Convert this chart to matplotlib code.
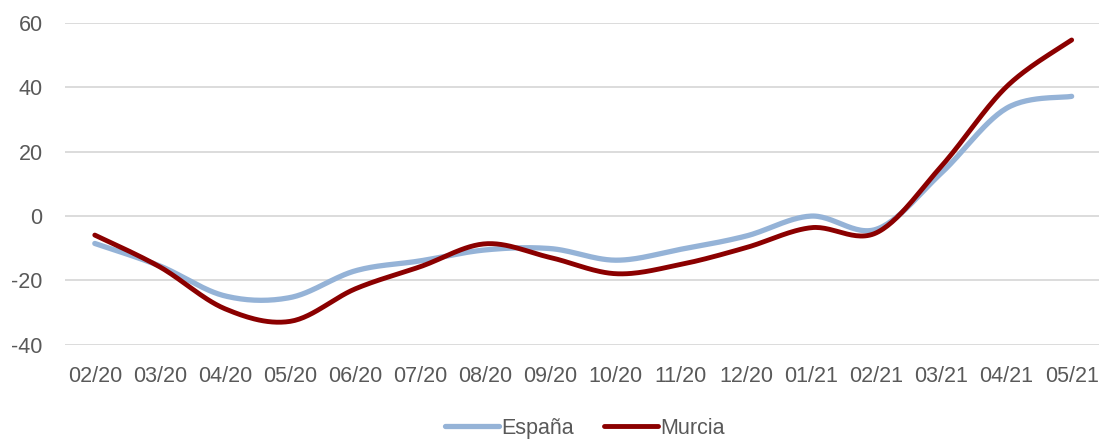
import matplotlib
matplotlib.use("Agg")
import matplotlib.pyplot as plt
import numpy as np

months = ["02/20", "03/20", "04/20", "05/20", "06/20", "07/20", "08/20", "09/20",
          "10/20", "11/20", "12/20", "01/21", "02/21", "03/21", "04/21", "05/21"]
espana = [-8.5, -15.5, -24.8, -25.3, -17.0, -13.9, -10.5, -10.1,
          -13.7, -10.3, -6.2, 0.0, -4.1, 13.4, 33.5, 37.2]
murcia = [-5.9, -15.8, -28.8, -32.7, -22.6, -15.7, -8.6, -12.9,
          -17.9, -15.0, -9.8, -3.6, -5.2, 15.5, 40.2, 54.7]

BLUE = "#95b3d7"
RED = "#8b0000"
GREY = "#595959"
GRID = "#d9d9d9"


def smooth(x, y, n=30):
    # Excel-style smoothed line: cubic Bezier through the points (Catmull-Rom handles)
    x = np.asarray(x, float)
    y = np.asarray(y, float)
    px = np.concatenate([[x[0]], x, [x[-1]]])
    py = np.concatenate([[y[0]], y, [y[-1]]])
    t = np.linspace(0, 1, n)[:, None]
    xs, ys = [], []
    for i in range(1, len(px) - 2):
        p0 = np.array([px[i], py[i]])
        p3 = np.array([px[i + 1], py[i + 1]])
        c1 = p0 + (np.array([px[i + 1], py[i + 1]]) - np.array([px[i - 1], py[i - 1]])) / 6
        c2 = p3 - (np.array([px[i + 2], py[i + 2]]) - np.array([px[i], py[i]])) / 6
        b = ((1 - t) ** 3) * p0 + 3 * ((1 - t) ** 2) * t * c1 + 3 * (1 - t) * t ** 2 * c2 + t ** 3 * p3
        xs.append(b[:, 0])
        ys.append(b[:, 1])
    return np.concatenate(xs), np.concatenate(ys)


plt.rcParams["font.family"] = ["Liberation Sans", "DejaVu Sans"]
plt.rcParams["axes.unicode_minus"] = False

fig = plt.figure(figsize=(10.99, 4.41), dpi=100, facecolor="white")
ax = fig.add_axes([0.059, 0.218, 0.941, 0.730])

x = np.arange(len(months))
sx, sy = smooth(x, espana)
ax.plot(sx, sy, color=BLUE, lw=3.8, solid_capstyle="round", label="España", zorder=3)
sx, sy = smooth(x, murcia)
ax.plot(sx, sy, color=RED, lw=3.5, solid_capstyle="round", label="Murcia", zorder=4)

ax.set_ylim(-40, 60)
ax.set_yticks(np.arange(-40, 61, 20))
ax.set_xlim(-0.46, 15.42)
ax.set_xticks(x)
ax.set_xticklabels(months)
ax.yaxis.grid(True, color=GRID, lw=1.3)
ax.set_axisbelow(True)
for spine in ax.spines.values():
    spine.set_visible(False)
ax.tick_params(length=0, colors=GREY, labelsize=15.5)
ax.tick_params(axis="x", pad=15)
ax.tick_params(axis="y", pad=16)

ax.legend(loc="lower center", bbox_to_anchor=(0.503, -0.352), ncol=2, frameon=False,
          fontsize=15.5, labelcolor=GREY, handlelength=2.5, handletextpad=0.1,
          columnspacing=1.4)

fig.savefig("out.png", dpi=100, facecolor="white")
